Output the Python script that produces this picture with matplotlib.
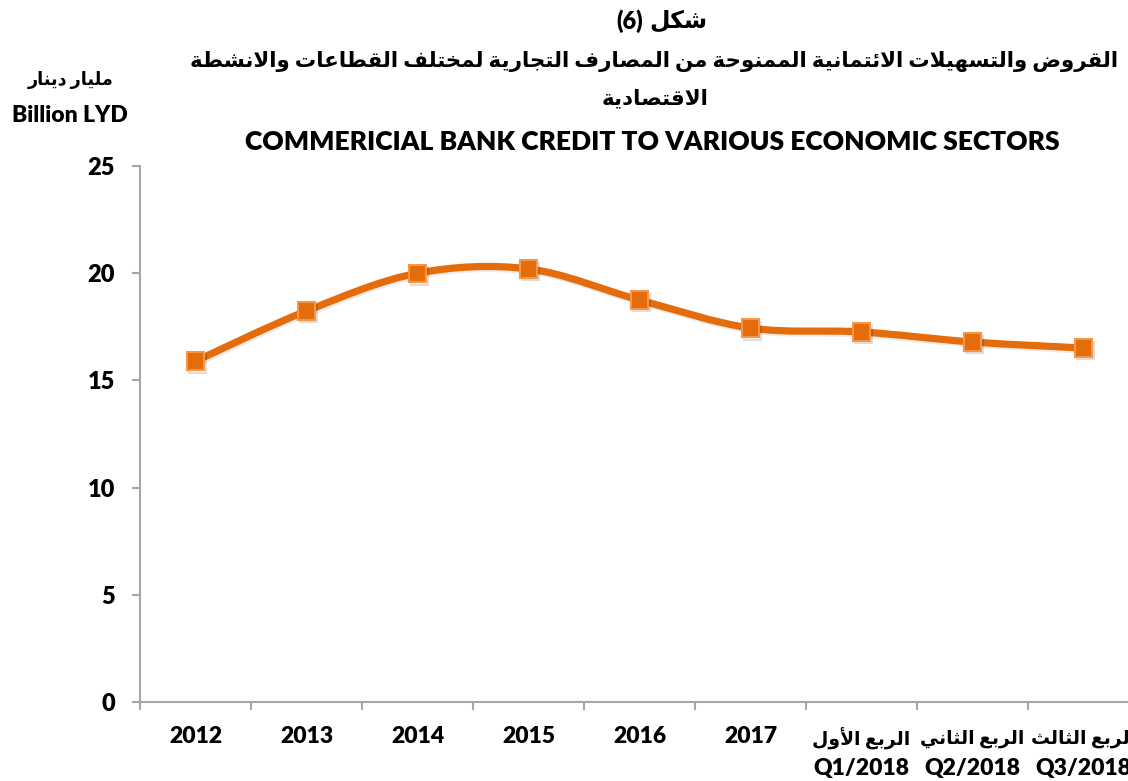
import numpy as np
import matplotlib
matplotlib.use('Agg')
import matplotlib.pyplot as plt
from matplotlib.path import Path
from matplotlib.patches import PathPatch
from matplotlib.transforms import blended_transform_factory, offset_copy
import matplotlib.patheffects as pe

# ---- data -------------------------------------------------------------
years = ['2012', '2013', '2014', '2015', '2016', '2017']
quarters_ar = ['الربع الأول', 'الربع الثاني', 'الربع الثالث']
quarters_en = ['Q1/2018', 'Q2/2018', 'Q3/2018']
credit = [15.9, 18.24, 20.0, 20.2, 18.75, 17.44, 17.26, 16.79, 16.51]

title_no = 'شكل'
title_num = '(6)'
title_ar = 'القروض والتسهيلات الائتمانية الممنوحة من المصارف التجارية لمختلف القطاعات والانشطة'
title_ar2 = 'الاقتصادية'
title_en = 'COMMERICIAL BANK CREDIT TO VARIOUS ECONOMIC SECTORS'
unit_ar = 'مليار دينار'
unit_en = 'Billion LYD'

ORANGE = '#E46C0A'
ORANGE_EDGE = '#F79646'
AXIS = '#A6A6A6'

# ---- minimal arabic shaping (matplotlib has no bidi / joining) --------
_F = {'ا': (0xFE8D, 2), 'أ': (0xFE83, 2), 'إ': (0xFE87, 2), 'آ': (0xFE81, 2),
      'ب': (0xFE8F, 4), 'ة': (0xFE93, 2), 'ت': (0xFE95, 4), 'ث': (0xFE99, 4),
      'ج': (0xFE9D, 4), 'ح': (0xFEA1, 4), 'خ': (0xFEA5, 4), 'د': (0xFEA9, 2),
      'ذ': (0xFEAB, 2), 'ر': (0xFEAD, 2), 'ز': (0xFEAF, 2), 'س': (0xFEB1, 4),
      'ش': (0xFEB5, 4), 'ص': (0xFEB9, 4), 'ض': (0xFEBD, 4), 'ط': (0xFEC1, 4),
      'ظ': (0xFEC5, 4), 'ع': (0xFEC9, 4), 'غ': (0xFECD, 4), 'ف': (0xFED1, 4),
      'ق': (0xFED5, 4), 'ك': (0xFED9, 4), 'ل': (0xFEDD, 4), 'م': (0xFEE1, 4),
      'ن': (0xFEE5, 4), 'ه': (0xFEE9, 4), 'و': (0xFEED, 2), 'ى': (0xFEEF, 2),
      'ي': (0xFEF1, 4), 'ئ': (0xFE89, 4), 'ؤ': (0xFE85, 2)}
_LA = {'ا': 0xFEFB, 'أ': 0xFEF7, 'إ': 0xFEF9, 'آ': 0xFEF5}


def ar(s):
    out, i = [], 0
    while i < len(s):
        ch = s[i]
        if ch not in _F:
            out.append(ch)
            i += 1
            continue
        prev = i > 0 and s[i - 1] in _F and _F[s[i - 1]][1] == 4
        nxt = s[i + 1] if i + 1 < len(s) else ''
        if ch == 'ل' and nxt in _LA:
            out.append(chr(_LA[nxt] + (1 if prev else 0)))
            i += 2
            continue
        base, n = _F[ch]
        joins_next = n == 4 and nxt in _F
        if prev and joins_next:
            k = 3
        elif prev:
            k = 1
        elif joins_next:
            k = 2
        else:
            k = 0
        out.append(chr(base + k))
        i += 1
    return ''.join(out[::-1])


plt.rcParams['font.family'] = ['Lato', 'DejaVu Sans']
plt.rcParams['font.weight'] = 'heavy'

fig = plt.figure(figsize=(11.28, 7.81), dpi=100)
ax = fig.add_axes([140 / 1128, 1 - 702 / 781, 999 / 1128, 536 / 781])

x = np.arange(len(credit))
y = np.array(credit)

# smoothed line (Catmull-Rom as cubic Bezier, like Excel's smoothing)
pts = np.column_stack([x, y])
verts, codes = [pts[0]], [Path.MOVETO]
for i in range(len(pts) - 1):
    p0 = pts[max(i - 1, 0)]
    p1, p2 = pts[i], pts[i + 1]
    p3 = pts[min(i + 2, len(pts) - 1)]
    verts += [p1 + (p2 - p0) / 6, p2 - (p3 - p1) / 6, p2]
    codes += [Path.CURVE4] * 3
shadow = [pe.SimpleLineShadow(offset=(1, -1.5), shadow_color='k', alpha=0.08), pe.Normal()]
ax.add_patch(PathPatch(Path(verts, codes), fill=False, ec=ORANGE, lw=5.2,
                       capstyle='round', joinstyle='round', path_effects=shadow, zorder=3))
ax.plot(x, y, ls='none', marker='s', ms=12.5, mfc=ORANGE, mec=ORANGE_EDGE, mew=1.5,
        path_effects=[pe.SimpleLineShadow(offset=(1.5, -2), shadow_color='k', alpha=0.13), pe.Normal()],
        zorder=4)

ax.set_xlim(-0.5, len(credit) - 0.5)
ax.set_ylim(0, 25)
ax.set_yticks(range(0, 26, 5))
ax.set_xticks(x)
ax.set_xticklabels(years + [''] * len(quarters_en), fontsize=16.5)
ax.set_xticks(np.arange(-0.5, len(credit), 1), minor=True)
ax.tick_params(axis='x', which='major', length=0, pad=17.5)
ax.tick_params(axis='x', which='minor', length=6, width=1.5, color=AXIS, direction='out')
ax.tick_params(axis='y', length=6, width=1.5, color=AXIS, pad=12, labelsize=17)

# quarter labels: arabic line over english line
base = blended_transform_factory(ax.transData, ax.transAxes)
for i, (qa, qe) in enumerate(zip(quarters_ar, quarters_en)):
    xi = len(years) + i
    ax.text(xi, 0, ar(qa), transform=offset_copy(base, fig, y=-37, units='dots'),
            ha='center', va='center', fontsize=13.5, clip_on=False)
    ax.text(xi, 0, qe, transform=offset_copy(base, fig, y=-67, units='dots'),
            ha='center', va='center', fontsize=16.5, clip_on=False)

for side in ('top', 'right'):
    ax.spines[side].set_visible(False)
for side in ('left', 'bottom'):
    ax.spines[side].set_color(AXIS)
    ax.spines[side].set_linewidth(1.5)

# "(6)" sits left of the arabic word, as in the source
fig.text(643 / 1128, 1 - 21 / 781, title_num, ha='right', va='center', fontsize=17)
fig.text(649 / 1128, 1 - 21 / 781, ar(title_no), ha='left', va='center', fontsize=17)
fig.text(654 / 1128, 1 - 61 / 781, ar(title_ar), ha='center', va='center', fontsize=15.4)
fig.text(655 / 1128, 1 - 98 / 781, ar(title_ar2), ha='center', va='center', fontsize=15.4)
fig.text(652 / 1128, 1 - 142 / 781, title_en, ha='center', va='center', fontsize=19)
fig.text(71 / 1128, 1 - 80 / 781, ar(unit_ar), ha='center', va='center', fontsize=12.7)
fig.text(70 / 1128, 1 - 115 / 781, unit_en, ha='center', va='center', fontsize=16.5)

fig.savefig('out.png', dpi=100)
